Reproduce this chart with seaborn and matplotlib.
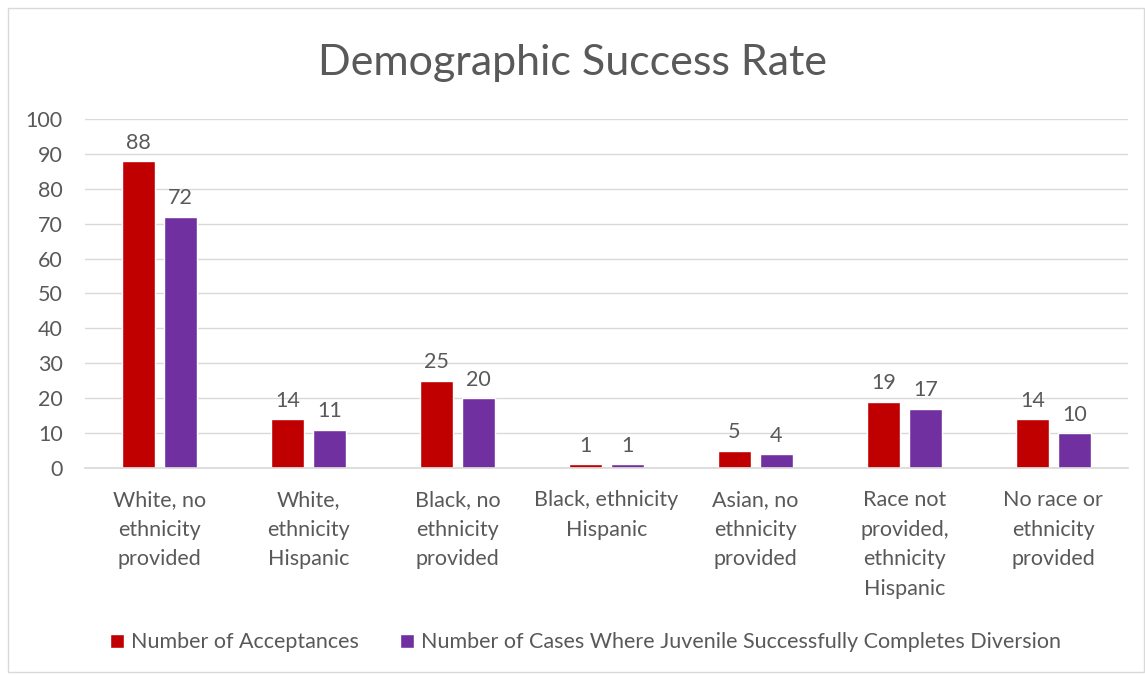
import pandas as pd
import matplotlib.pyplot as plt
import seaborn as sns
from matplotlib.patches import Rectangle

# Chart data
categories = [
    "White, no\nethnicity\nprovided",
    "White,\nethnicity\nHispanic",
    "Black, no\nethnicity\nprovided",
    "Black, ethnicity\nHispanic",
    "Asian, no\nethnicity\nprovided",
    "Race not\nprovided,\nethnicity\nHispanic",
    "No race or\nethnicity\nprovided",
]
acceptances = [88, 14, 25, 1, 5, 19, 14]
completions = [72, 11, 20, 1, 4, 17, 10]
series_names = [
    "Number of Acceptances",
    "Number of Cases Where Juvenile Successfully Completes Diversion",
]

df = pd.DataFrame({
    "category": categories * 2,
    "value": acceptances + completions,
    "series": [series_names[0]] * len(categories) + [series_names[1]] * len(categories),
})

sns.set_theme(style="white")
plt.rcParams["font.family"] = ["Lato", "DejaVu Sans"]
text_color = "#595959"
fs = 15.5

fig = plt.figure(figsize=(11.45, 6.75), dpi=100)
ax = fig.add_axes([0.0742, 0.3067, 0.9108, 0.517])

sns.barplot(data=df, x="category", y="value", hue="series",
            palette=["#C00000", "#7030A0"], width=0.564, gap=0.22,
            saturation=1, ax=ax)

# value labels
for container in ax.containers:
    ax.bar_label(container, padding=6, fontsize=fs, color=text_color)

ax.set_ylim(0, 100)
ax.set_yticks(range(0, 101, 10))
ax.set_xlim(-0.5, len(categories) - 0.5)
ax.yaxis.grid(True, color="#D9D9D9", linewidth=1)
ax.set_axisbelow(True)
for s in ["left", "right", "top"]:
    ax.spines[s].set_visible(False)
ax.spines["bottom"].set_color("#D9D9D9")
ax.tick_params(axis="both", length=0, labelsize=fs, labelcolor=text_color)
ax.tick_params(axis="x", pad=16)
ax.tick_params(axis="y", pad=16)
for lbl in ax.get_xticklabels():
    lbl.set_linespacing(1.6)
ax.set_xlabel("")
ax.set_ylabel("")

fig.suptitle("Demographic Success Rate", y=0.935, fontsize=31, color=text_color)

leg = ax.legend(loc="center", bbox_to_anchor=(0.48, -0.5), ncol=2, frameon=False,
                fontsize=fs, handlelength=0.65, handleheight=0.65,
                handletextpad=0.35, columnspacing=1.9)
for t in leg.get_texts():
    t.set_color(text_color)

# chart border
fig.patches.append(Rectangle((0.007, 0.004), 0.992, 0.984, transform=fig.transFigure,
                             fill=False, edgecolor="#D9D9D9", linewidth=1))

plt.savefig("out.png", dpi=100)
